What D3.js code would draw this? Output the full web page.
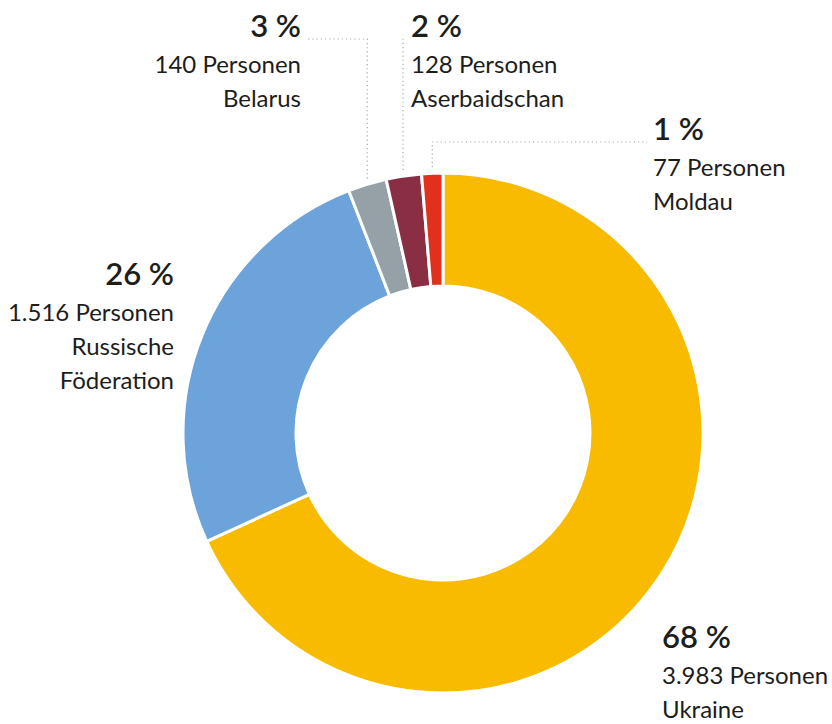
<!DOCTYPE html>
<html>
<head>
<meta charset="utf-8">
<script src="https://cdn.jsdelivr.net/npm/d3@7"></script>
<style>
  body { margin: 0; background: #fff; }
  text { font-family: Lato, "Noto Sans", sans-serif; fill: #1d1d1b; }
</style>
</head>
<body>
<div class="donut"></div>
<script>
// data
const countries = ["Ukraine", "Russische Föderation", "Belarus", "Aserbaidschan", "Moldau"];
const persons = [3983, 1516, 140, 128, 77];
const percents = [68, 26, 3, 2, 1];
const colors = ["#f8bb00", "#6ba3da", "#96a0a7", "#8a2f43", "#e1311c"];

// label layout (anchor x, baseline of percent line, text-anchor, leader line)
const labelLayout = [
    { x: 662, y: 648, anchor: "start", leader: null },
    { x: 174, y: 285, anchor: "end", leader: null },
    { x: 301, y: 37, anchor: "end", leader: "left" },
    { x: 411, y: 37, anchor: "start", leader: "up" },
    { x: 653, y: 140, anchor: "start", leader: "right" }
];

const width = 832;
const height = 724;
const cx = 443;
const cy = 433;
const outerR = 260;
const innerR = 147;

const fmt = d3.formatLocale({ decimal: ",", thousands: ".", grouping: [3], currency: ["", " €"] }).format(",d");

const svg = d3.select(".donut")
    .append("svg")
    .attr("width", width)
    .attr("height", height);

const g = svg.append("g").attr("transform", `translate(${cx},${cy})`);

const pie = d3.pie().sort(null).value(d => d);
const arcs = pie(persons);

const arc = d3.arc().innerRadius(innerR).outerRadius(outerR);

g.selectAll("path")
    .data(arcs)
    .enter()
    .append("path")
    .attr("d", arc)
    .style("fill", (d, i) => colors[i])
    .style("stroke", "white")
    .style("stroke-width", 3);

// leader lines for small slices
arcs.forEach((d, i) => {
    const lay = labelLayout[i];
    if (!lay.leader) return;
    const mid = (d.startAngle + d.endAngle) / 2;
    const px = cx + Math.sin(mid) * outerR;
    const py = cy - Math.cos(mid) * (outerR + 6);
    const ly = lay.y + 2;
    let pts;
    if (lay.leader === "left") pts = [[px, py], [px, ly], [lay.x + 6, ly]];
    else if (lay.leader === "right") pts = [[px, py], [px, ly], [lay.x - 6, ly]];
    else pts = [[lay.x - 8, py], [lay.x - 8, lay.y]];
    svg.append("path")
        .attr("d", d3.line()(pts))
        .style("fill", "none")
        .style("stroke", "#a9a9a9")
        .style("stroke-width", 1.2)
        .style("stroke-dasharray", "1.2,3");
});

// labels
countries.forEach((c, i) => {
    const lay = labelLayout[i];
    const t = svg.append("text")
        .attr("x", lay.x)
        .attr("y", lay.y)
        .style("text-anchor", lay.anchor);
    t.append("tspan")
        .attr("x", lay.x)
        .style("font-size", "31px")
        .style("font-weight", "600")
        .text(percents[i] + " %");
    const lines = [fmt(persons[i]) + " Personen"].concat(c === "Russische Föderation" ? ["Russische", "Föderation"] : [c]);
    lines.forEach((l, j) => {
        t.append("tspan")
            .attr("x", lay.x)
            .attr("dy", j === 0 ? 36 : 34)
            .style("font-size", "24px")
            .text(l);
    });
});
</script>
</body>
</html>
